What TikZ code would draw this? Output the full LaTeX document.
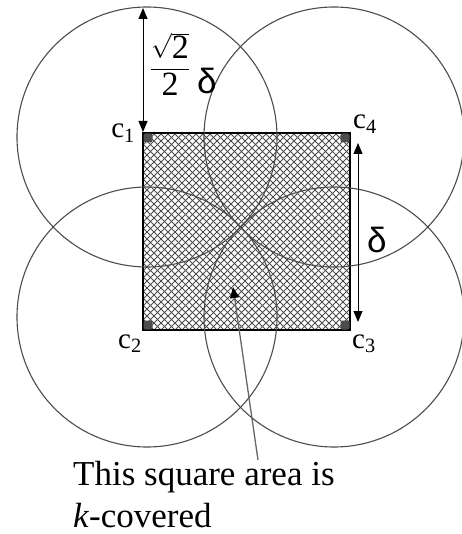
\documentclass[tikz,border=0pt]{standalone}
\usepackage{amsmath}
\usepackage{fontspec}
\setmainfont{Liberation Serif}
\newfontfamily\deltafont{Liberation Sans}
\usepackage{tikz}
\usetikzlibrary{arrows.meta,positioning}

\begin{document}
\begin{tikzpicture}[
    x=1pt, y=-1pt,
    circ/.style={draw=black!70, line width=1.1pt},
    hatch/.style={draw=black!70, line width=0.8pt},
    corner/.style={rectangle, rounded corners=2pt, fill=black!70, inner sep=0pt, minimum size=9pt},
    lbl/.style={inner sep=0pt, font=\fontsize{29}{34}\selectfont},
    dlbl/.style={inner sep=0pt, anchor=base west, font=\deltafont\fontsize{35}{40}\selectfont},
    dim/.style={{Triangle[length=11pt,width=9pt]}-{Triangle[length=11pt,width=9pt]}, line width=1pt},
    pointer/.style={-{Triangle[length=11pt,width=9pt,color=black]}, draw=black!60, line width=1.3pt}
]
\useasboundingbox (0,0) rectangle (461,534);
% circle centres
\coordinate (c1) at (147,137);
\coordinate (c2) at (147,317);
\coordinate (c3) at (334,317);
\coordinate (c4) at (334,137);
% square corners
\coordinate (sq1) at (143,133);
\coordinate (sq3) at (350,330);
% hatched square
\begin{scope}
\clip (sq1) rectangle (sq3);
\foreach \i in {-84,-77,...,574} {
    \draw[hatch] (\i,120) -- ++(220,220);
    \draw[hatch] (\i,120) -- ++(-220,220);
}
\end{scope}
\draw[line width=1.4pt] (sq1) rectangle (sq3);
% sensing disks
\foreach \c in {c1,c2,c3,c4}
    \draw[circ] (\c) circle[radius=130pt];
\node[corner] (d1) at (148,138) {};
\node[corner] (d2) at (148,325) {};
\node[corner] (d3) at (345,325) {};
\node[corner] (d4) at (345,138) {};
\node[lbl, anchor=base east] (l1) at (135,138) {c\textsubscript{1}};
\node[lbl, anchor=base west] (l2) at (118,348) {c\textsubscript{2}};
\node[lbl, anchor=base west] (l3) at (352,348) {c\textsubscript{3}};
\node[lbl, anchor=base west] (l4) at (353,129) {c\textsubscript{4}};
% radius and side
\coordinate (rtop) at (143,8);
\coordinate (rbot) at (143,132);
\draw[dim] (rtop) -- (rbot);
\node[inner sep=0pt, font=\fontsize{34}{40}\selectfont] (frac) at (170,64) {$\displaystyle\frac{\sqrt{\text{2}}}{\text{2}}$};
\node[dlbl] (rlbl) at (197,94) {δ};
\coordinate (dtop) at (358,143);
\coordinate (dbot) at (358,322);
\draw[dim] (dtop) -- (dbot);
\node[dlbl] (dlbl) at (367,252) {δ};
% note
\node[anchor=north west, inner sep=0pt, text depth=0pt, align=left, font=\fontsize{35}{42}\selectfont] (note) at (73,461) {This square area is\\\textit{k}-covered};
\coordinate (tail) at (258,460);
\coordinate (tip) at (233,287);
\draw[pointer] (tail) -- (tip);
\end{tikzpicture}
\end{document}
